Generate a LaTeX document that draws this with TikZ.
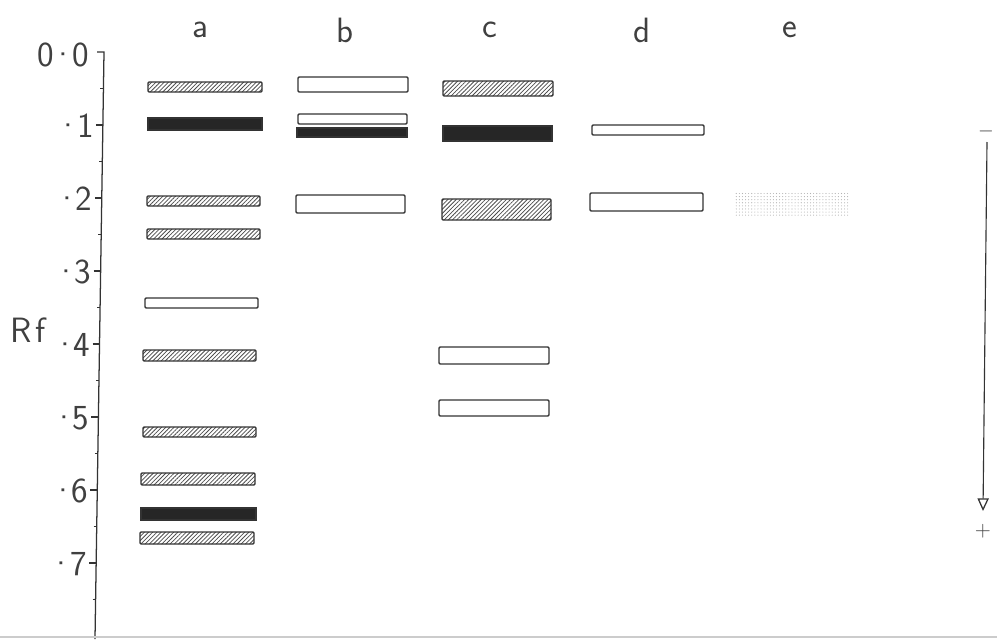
\documentclass[tikz,border=0pt]{standalone}
\usetikzlibrary{patterns.meta,arrows.meta,calc}
\newcommand\mydot{\kern-0.1em·\kern-0.12em}
\begin{document}
\begin{tikzpicture}[x=0.025cm,y=-0.025cm,
  ink/.style={draw=black!80},
  axisline/.style={ink, line width=0.9pt},
  openband/.style={ink, line width=1pt, rounded corners=0.8pt, fill=white},
  hatch/.style={ink, line width=1pt, rounded corners=0.8pt,
    pattern={Lines[angle=45,distance=2.1pt,line width=0.55pt]}, pattern color=black!70},
  darkband/.style={ink, line width=1pt, fill=black!85},
  stipple/.style={draw=none, pattern={Dots[distance=2.2pt,radius=0.4pt]}, pattern color=black!30},
  lbl/.style={font=\fontsize{25}{27}\selectfont\sffamily, text=black!75, inner sep=0pt},
  sgn/.style={font=\fontsize{15}{16}\selectfont\sffamily, text=black!75, inner sep=0pt}]
\useasboundingbox (0,0) rectangle (997,639);
% axis
\coordinate (axtop) at (104,52);
\coordinate (axbot) at (95,639);
\draw[axisline] (97,52) -- (axtop) -- (axbot);
\foreach \v in {1,...,7} {
  \pgfmathsetmacro\yy{52+73*\v}
  \pgfmathsetmacro\xx{104-(\yy-52)*0.01533}
  \draw[axisline] (\xx-7,\yy) -- (\xx,\yy);
  \node[lbl, anchor=east] (t\v) at (\xx-9,\yy+1) {\mydot\v};
}
\foreach \v in {0,...,7} {
  \pgfmathsetmacro\yy{52+73*\v+36.5}
  \pgfmathsetmacro\xx{104-(\yy-52)*0.01533}
  \draw[axisline] (\xx-3,\yy) -- (\xx,\yy);
}
\node[lbl, anchor=east] (t0) at (89,55) {0\mydot0};
\node[lbl] (rf) at (28,330) {R\kern0.08em f};
% lane labels
\node[lbl] (la) at (200,30) {a};
\node[lbl] (lb) at (345,30) {b};
\node[lbl] (lc) at (490,30) {c};
\node[lbl] (ld) at (642,30) {d};
\node[lbl] (le) at (790,30) {e};
% lane a
\draw[hatch] (148,82) rectangle (262,92);
\draw[darkband] (148,118) rectangle (262,130);
\draw[hatch] (147,196) rectangle (260,206);
\draw[hatch] (147,229) rectangle (260,239);
\draw[openband] (145,298) rectangle (258,308);
\draw[hatch] (143,350) rectangle (256,361);
\draw[hatch] (143,427) rectangle (256,437);
\draw[hatch] (141,473) rectangle (255,485);
\draw[darkband] (141,508) rectangle (256,520);
\draw[hatch] (140,532) rectangle (254,544);
% lane b
\draw[openband] (298,77) rectangle (408,92);
\draw[openband] (298,114) rectangle (407,124);
\draw[darkband] (297,128) rectangle (407,137);
\draw[openband] (296,195) rectangle (405,213);
% lane c
\draw[hatch] (443,81) rectangle (553,96);
\draw[darkband] (443,126) rectangle (552,141);
\draw[hatch] (442,199) rectangle (551,220);
\draw[openband] (439,347) rectangle (549,364);
\draw[openband] (439,400) rectangle (549,416);
% lane d
\draw[openband] (592,125) rectangle (704,135);
\draw[openband] (590,193) rectangle (703,211);
% lane e
\fill[stipple] (735,192) rectangle (848,215);
% direction arrow
\node[sgn] (neg) at (986,131) {$-$};
\node[sgn] (pos) at (983,531) {+};
\coordinate (arrtop) at (987,142);
\coordinate (arrbot) at (983,511);
\draw[ink, line width=0.8pt, -{Triangle[open,length=9pt,width=8pt,line width=0.9pt]}] (arrtop) -- (arrbot);
% bottom edge line
\draw[black!20, line width=0.8pt] (0,637) -- (997,637);
\end{tikzpicture}
\end{document}
